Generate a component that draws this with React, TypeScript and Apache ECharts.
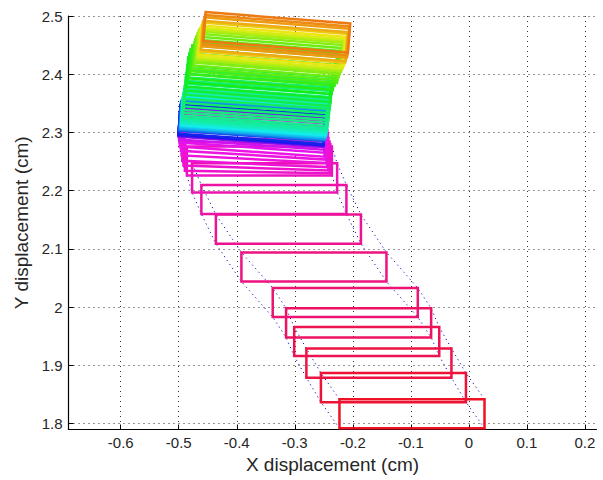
import React, { useEffect, useRef } from "react";
import * as echarts from "echarts";

// Rectangle size (cm)
const RECT_W = 0.25;
const RECT_H = 0.05;

// Frame centres (cm) and rotation (deg), from first (bottom, red) to last (top, orange)
const frameX = [
  -0.098, -0.130, -0.155, -0.176, -0.190, -0.213, -0.267, -0.311, -0.336, -0.352, -0.361,
  -0.364, -0.366, -0.368, -0.369, -0.370, -0.372, -0.372, -0.373, -0.374, -0.374,
  -0.374, -0.374, -0.374, -0.373, -0.372, -0.371, -0.370, -0.370, -0.369, -0.369,
  -0.369, -0.368, -0.368, -0.367, -0.367, -0.366, -0.365, -0.365, -0.364, -0.363,
  -0.362, -0.361, -0.361, -0.359, -0.357, -0.354, -0.350, -0.349, -0.347, -0.345,
  -0.343, -0.342, -0.340, -0.338, -0.336, -0.335, -0.333, -0.332, -0.331,
];
const frameY = [
  1.817, 1.862, 1.904, 1.941, 1.973, 2.008, 2.069, 2.134, 2.185, 2.222, 2.251,
  2.257, 2.264, 2.271, 2.279, 2.286, 2.292, 2.299, 2.304, 2.309, 2.311,
  2.312, 2.313, 2.314, 2.319, 2.321, 2.323, 2.325, 2.327, 2.329, 2.331,
  2.333, 2.335, 2.338, 2.341, 2.345, 2.350, 2.355, 2.361, 2.367, 2.374,
  2.380, 2.387, 2.394, 2.401, 2.408, 2.415, 2.420, 2.425, 2.430, 2.435,
  2.439, 2.442, 2.445, 2.449, 2.454, 2.457, 2.463, 2.467, 2.472,
];
const frameAngle = [
  0, 0, 0, 0, 0, 0, 0, 0, 0, 0, 0,
  -1, -2, -2.5, -3, -3.5, -4, -4, -4, -4, -4,
  -4, -4, -4, -4, -4, -4, -4, -4, -4, -4,
  -4, -4, -4, -4, -4, -4, -4, -4, -4, -4,
  -4.5, -4.5, -4.5, -4.5, -4.5, -4.5, -4.5, -4.5, -4.5, -4.5,
  -4.5, -4.5, -4.5, -4.5, -4.5, -4.5, -4.5, -4.5, -4.5,
];

const X_MIN = -0.69;
const X_MAX = 0.22;
const Y_MIN = 1.79;
const Y_MAX = 2.5;

// Colour style: hue anchors along the frame sequence
const hueAnchorIdx = [0, 6, 10, 16, 18, 20, 23, 26, 29, 33, 40, 45, 49, 52, 54, 56, 59];
const hueAnchorVal = [355, 330, 312, 302, 292, 255, 235, 200, 180, 160, 140, 115, 95, 75, 58, 42, 28];

function corners(cx: number, cy: number, deg: number): number[][] {
  const a = (deg * Math.PI) / 180;
  const c = Math.cos(a);
  const s = Math.sin(a);
  const local = [
    [-RECT_W / 2, RECT_H / 2],
    [RECT_W / 2, RECT_H / 2],
    [RECT_W / 2, -RECT_H / 2],
    [-RECT_W / 2, -RECT_H / 2],
  ];
  return local.map(([u, v]) => [cx + u * c - v * s, cy + u * s + v * c]);
}

function hsvToHex(h: number, s: number, v: number): string {
  h = ((h % 360) + 360) % 360;
  const c = v * s;
  const x = c * (1 - Math.abs(((h / 60) % 2) - 1));
  const m = v - c;
  let r = 0, g = 0, b = 0;
  if (h < 60) [r, g, b] = [c, x, 0];
  else if (h < 120) [r, g, b] = [x, c, 0];
  else if (h < 180) [r, g, b] = [0, c, x];
  else if (h < 240) [r, g, b] = [0, x, c];
  else if (h < 300) [r, g, b] = [x, 0, c];
  else [r, g, b] = [c, 0, x];
  const hx = (n: number) => Math.round((n + m) * 255).toString(16).padStart(2, "0");
  return "#" + hx(r) + hx(g) + hx(b);
}

function frameColor(i: number): string {
  let hue = hueAnchorVal[hueAnchorVal.length - 1];
  for (let k = 0; k < hueAnchorIdx.length - 1; k++) {
    const a = hueAnchorIdx[k];
    const b = hueAnchorIdx[k + 1];
    if (i >= a && i <= b) {
      const t = (i - a) / (b - a);
      hue = hueAnchorVal[k] + t * (hueAnchorVal[k + 1] - hueAnchorVal[k]);
      break;
    }
  }
  return hsvToHex(hue, 0.92, 0.93);
}

const fmt = (v: number) =>
  Math.abs(v * 10 - Math.round(v * 10)) < 1e-6 ? String(Number(v.toFixed(1))) : "";

export default function App() {
  const ref = useRef<HTMLDivElement>(null);
  useEffect(() => {
    document.body.style.margin = "0";
    if (!ref.current) return;
    const chart = echarts.init(ref.current, null, { renderer: "svg" });

    const rectData = frameX.map((x, i) => [x, frameY[i], frameAngle[i], i]);
    const cornerSeries = [0, 1, 2, 3].map((k) => ({
      type: "line",
      data: frameX.map((x, i) => corners(x, frameY[i], frameAngle[i])[k]),
      symbol: "none",
      silent: true,
      z: 1,
      lineStyle: { color: "#1010d0", width: 1, type: [1.2, 3.5] },
    }));

    const font = "Liberation Sans, Arial, Helvetica, sans-serif";
    chart.setOption({
      animation: false,
      backgroundColor: "#ffffff",
      grid: { left: 68.5, top: 16, width: 528, height: 413.5, containLabel: false },
      xAxis: {
        type: "value",
        min: X_MIN,
        max: X_MAX,
        splitNumber: 9,
        name: "X displacement (cm)",
        nameLocation: "middle",
        nameGap: 25,
        nameTextStyle: { fontFamily: font, fontSize: 19, color: "#262626" },
        axisLine: { onZero: false, lineStyle: { color: "#000", width: 1.2 } },
        axisTick: { inside: true, length: 5, lineStyle: { color: "#000" } },
        axisLabel: {
          formatter: fmt,
          showMinLabel: false,
          showMaxLabel: false,
          margin: 5,
          fontFamily: font,
          fontSize: 15,
          color: "#262626",
        },
        splitLine: {
          show: true,
          showMinLine: false,
          showMaxLine: false,
          lineStyle: { color: "#333", width: 1, type: [1, 4] },
        },
      },
      yAxis: {
        type: "value",
        min: Y_MIN,
        max: Y_MAX,
        splitNumber: 7,
        name: "Y displacement (cm)",
        nameLocation: "middle",
        nameGap: 28,
        nameTextStyle: { fontFamily: font, fontSize: 19, color: "#262626" },
        axisLine: { show: true, onZero: false, lineStyle: { color: "#000", width: 1.2 } },
        axisTick: { show: true, inside: true, length: 5, lineStyle: { color: "#000" } },
        axisLabel: {
          formatter: fmt,
          showMinLabel: false,
          margin: 6,
          fontFamily: font,
          fontSize: 15,
          color: "#262626",
        },
        splitLine: {
          show: true,
          showMinLine: false,
          lineStyle: { color: "#333", width: 1, type: [1, 4] },
        },
      },
      series: [
        ...cornerSeries,
        {
          type: "custom",
          clip: false,
          z: 2,
          silent: true,
          data: rectData,
          renderItem: (_params: any, api: any) => {
            const cx = api.value(0);
            const cy = api.value(1);
            const ang = api.value(2);
            const idx = api.value(3);
            const pts = corners(cx, cy, ang).map((p) => api.coord(p));
            return {
              type: "polygon",
              shape: { points: pts },
              style: {
                fill: "none",
                stroke: frameColor(idx),
                lineWidth: 2.5,
                lineJoin: "miter",
              },
            };
          },
        },
      ],
    });
    return () => chart.dispose();
  }, []);
  return <div ref={ref} style={{ width: 603, height: 480 }} />;
}
